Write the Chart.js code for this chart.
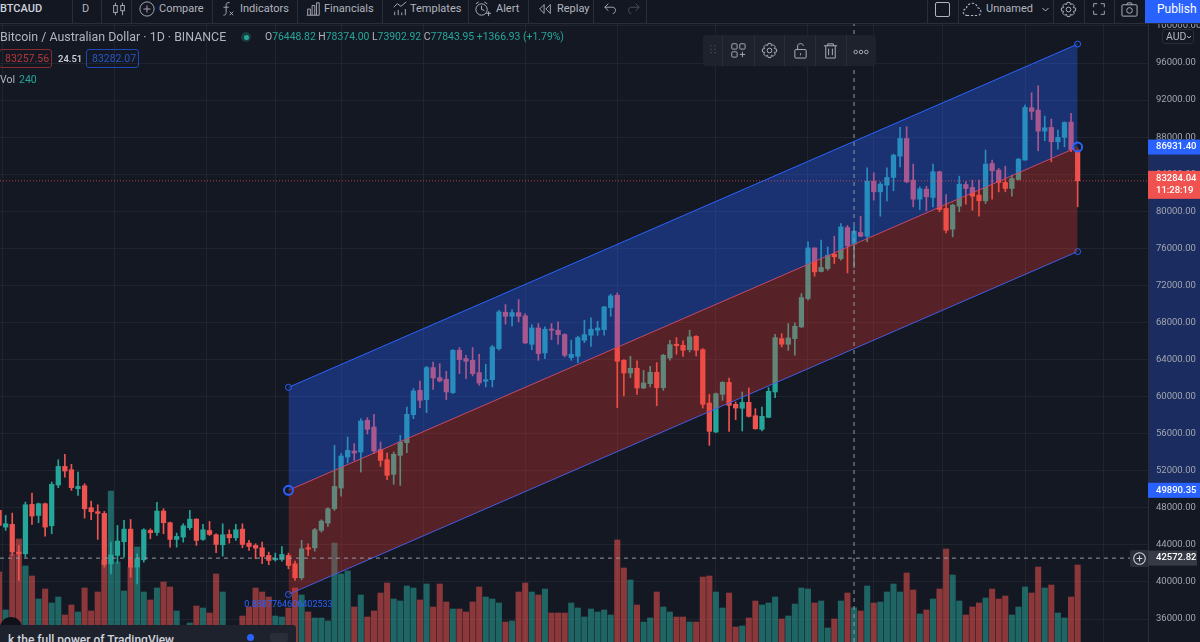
<!DOCTYPE html>
<html>
<head>
<meta charset="utf-8">
<title>BTCAUD</title>
<script src="https://cdn.jsdelivr.net/npm/chart.js@4/dist/chart.umd.js"></script>
<style>
  html, body { margin: 0; width: 1200px; height: 642px; overflow: hidden; background: #141823; font-family: Roboto, sans-serif; }
  #chart { position: absolute; left: 0; top: 0; }
  .t { position: absolute; white-space: nowrap; color: #b2b5be; font-size: 12px; line-height: 14px; }
  .box { position: absolute; box-sizing: border-box; }
  svg { position: absolute; fill: none; stroke: #b2b5be; stroke-width: 1; }
  #topbar { position: absolute; left: 0; top: 0; width: 1200px; height: 23px; background: #131722; border-bottom: 1px solid #2a2e39; overflow: hidden; }
  #bottomclip { position: absolute; left: 0; top: 625px; width: 296px; height: 17px; background: #1e222d; border-radius: 3px 3px 0 0; overflow: hidden; }
</style>
</head>
<body>
<canvas id="chart" width="1200" height="642"></canvas>
<div id="topbar"></div>
<div id="bottomclip"></div>
<div id="extras"></div>
<script>
// daily candles, index 0 is the left edge
var opens = [
  47720,45920,46210,43220,43040,48370,47180,48440,46060,50460,
  52470,52110,50060,50380,48010,47580,47400,41960,42860,44340,
  45700,41600,42390,45560,45340,47650,46390,44590,44840,45850,
  46780,44590,45560,45090,44010,45130,44770,45700,44190,43940,
  43690,42860,42390,42430,42860,41960,40450,43690,43690,45560,
  46350,47900,50130,53480,54130,54020,57440,56720,54310,53190,
  51610,53660,55030,58050,60680,59670,63130,62050,61870,60430,
  65000,64100,63920,62590,61650,61830,65180,69100,68670,69070,
  68710,65650,67410,64710,67300,67160,66690,64210,64350,66080,
  66620,67160,67230,69610,70940,63920,62550,63060,60930,61400,
  62620,60970,64170,65650,65540,65070,66510,65070,59310,56180,
  60250,61540,59170,58740,59380,57940,56470,57760,60500,66260,
  65650,66260,67520,70580,76050,73500,73820,75370,74900,78250,
  76448.82,77710,77310,83250,82100,82820,83650,85950,87860,83360,
  81310,82390,81490,84260,80300,78070,80550,82890,82570,81740,
  81130,85160,84440,83110,82460,83430,85520,91170,90920,88650,
  89050,87500,87970,89620,86600
];
var highs = [
  47720,47180,47430,43940,48620,49590,48510,48510,50780,53190,
  53770,52690,51860,50600,48730,48330,47610,44300,46100,46640,
  46750,43040,45740,45740,48580,47900,46460,45270,46280,47720,
  46820,46210,46530,45200,46280,45630,46210,46280,44480,44120,
  44300,43220,43110,43830,43110,42250,44480,44120,45780,46710,
  48010,54740,53840,55640,54920,57620,57730,58090,55100,53910,
  54020,55820,58880,60860,61690,63270,63740,63560,62730,65070,
  65290,64460,65290,64570,63490,65540,69320,69930,69390,70470,
  68960,67770,67880,67520,67880,68060,66800,66080,66510,68240,
  68490,68130,69750,71050,71190,64000,64350,63850,62840,63270,
  63670,64570,66080,66370,66010,67160,66580,65180,60250,60390,
  61620,62010,59420,60500,60930,58700,58880,60970,66730,66800,
  67880,67950,71120,76700,76050,76880,76160,77310,78680,78460,
  78374,79470,84690,84150,83140,84690,86170,89050,89120,85090,
  82640,82710,85090,84330,81810,80770,83790,83180,83360,83360,
  86600,85520,84620,84870,83900,85700,91460,92790,93550,90270,
  89950,88760,89660,90560,86780
];
var lows = [
  46000,45560,42860,40160,42680,46210,46390,44950,45200,50170,
  51320,49880,49340,46890,46710,44590,41600,40880,42030,42680,
  40520,39800,42140,44660,45020,45200,43760,43760,44300,45630,
  43940,44480,45020,43150,42790,44190,44480,43690,43400,42500,
  41960,41850,42250,42250,41420,40160,40230,42860,43330,45380,
  45990,47720,49270,52830,53120,51860,55960,53840,52470,51030,
  50530,50420,53950,57620,58810,58270,60790,61580,59670,60320,
  62480,61940,62230,61220,61040,61040,65000,67810,67630,68060,
  65720,65070,63920,64100,66150,65650,64280,63920,63670,65830,
  65430,66620,66620,68670,58810,60070,62050,60250,60860,61040,
  59020,60680,63920,64570,64350,64820,64390,58770,54740,56110,
  59600,56250,57510,56290,57800,56470,56290,57730,59890,65360,
  65000,64460,67450,70400,72990,73460,73640,74360,74720,73350,
  73902.92,77240,76700,81200,79470,81130,82210,84800,83070,80480,
  80190,80050,80480,79940,77670,77240,79940,80770,80120,79470,
  80840,81310,82100,82100,81630,83360,85520,89910,86530,87610,
  85340,86710,86960,86420,80480
];
var closes = [
  46100,46280,43220,43040,48330,47110,48440,45920,50530,52470,
  51970,50170,50310,47900,47580,47400,41890,42930,44410,45700,
  41600,42500,45630,45310,47650,46390,44590,44910,46060,46780,
  44480,45630,45130,44050,45090,44770,45630,44050,43830,43650,
  42750,42320,42540,42970,41780,40450,43580,43540,45630,46570,
  47900,50310,53590,54200,53910,57370,56470,54130,53120,51500,
  53770,55100,58090,60610,59600,63130,62010,61690,60500,65000,
  63990,63810,62480,61470,61830,65360,69140,68670,69070,68670,
  65790,67410,64640,67270,67160,66690,64460,64570,66370,66690,
  67270,67410,69680,70870,63810,62550,63060,60930,61470,62620,
  60970,64460,65610,65500,65000,66440,65000,59170,56250,60320,
  61540,59060,58770,59380,57870,56540,57870,60570,66370,65650,
  66330,67590,70690,76050,73460,73930,75260,75080,78320,76270,
  77843.95,77310,83250,82100,82930,83650,86060,87860,83180,81310,
  82420,81560,84260,80190,77960,80660,82930,82460,81630,81130,
  85090,84370,83110,82460,83540,85630,91210,90780,88650,89010,
  87500,87970,89590,86670,83284.04
];
var volumes = [
  490,224,616,721,532,462,301,371,273,315,
  189,259,210,378,217,350,574,1057,560,357,
  525,665,350,294,378,420,385,217,84,133,
  252,238,203,476,350,70,84,182,245,378,
  350,315,182,175,238,378,329,210,168,168,
  147,693,476,497,245,329,175,217,343,413,
  301,287,392,378,294,406,245,406,280,231,
  231,210,280,385,315,301,273,140,147,350,
  413,350,329,371,203,203,203,273,238,175,
  231,210,224,189,714,518,434,259,140,168,
  350,245,210,175,175,140,140,455,462,350,
  238,343,105,112,168,287,259,273,315,161,
  182,266,378,371,273,287,98,161,287,343,
  240,217,392,273,280,350,406,350,483,364,
  196,224,301,371,651,469,287,189,245,273,
  308,371,301,322,189,245,385,343,525,378,
  399,203,168,315,539
];

// parallel channel: [candle index, price] of its two ends
var channelIdx = [44, 164];
var channelTop = [61000, 98040];
var channelMid = [49890.35, 86931.40];
var channelLow = [38650, 75650];

var crossIdx = 130;
var crossPrice = 42572.82;
var lastPrice = 83284.04;
var gridIdx = [9, 26, 37, 47, 57, 72, 88, 100, 118, 128, 138, 149, 163, 173];
var priceTicks = [36000, 40000, 44000, 48000, 52000, 56000, 60000, 64000, 68000, 72000, 76000, 80000, 84000, 88000, 92000, 96000, 100000];
var legendRatio = '0.8887764606402533';

var priceMin = 33520, priceMax = 102800;
var idxMin = 0.137, idxMax = 174.7;
var volMax = 4494;

var UP = '#26a69a', DOWN = '#ef5350', BLUE = '#2962ff';

var idx = opens.map(function (_, i) { return i; });
var isUp = idx.map(function (i) { return closes[i] >= opens[i]; });
var candleColor = isUp.map(function (u) { return u ? UP : DOWN; });
var volColor = isUp.map(function (u) { return u ? 'rgba(38,166,154,0.55)' : 'rgba(239,83,80,0.55)'; });

function endPoints(values) {
  return channelIdx.map(function (x, i) { return { x: x, y: values[i] }; });
}

function guide(points, color, dash) {
  return {
    type: 'line', data: points, borderColor: color, borderWidth: 1, borderDash: dash,
    pointRadius: 0, fill: false, order: 1
  };
}

var axisTags = {
  id: 'axisTags',
  beforeDraw: function (chart) {
    // selected drawing's range shaded on the price axis
    var c = chart.ctx, s = chart.scales.y, a = chart.chartArea;
    c.save();
    c.fillStyle = '#1a2c60';
    var t = s.getPixelForValue(channelMid[1]), b = s.getPixelForValue(channelMid[0]);
    c.fillRect(a.right, t, chart.width - a.right, b - t);
    c.restore();
  },
  afterDraw: function (chart) {
    var c = chart.ctx, s = chart.scales.y, a = chart.chartArea, x = chart.scales.x;
    function tag(value, bg, color, w, lines) {
      var y = s.getPixelForValue(value);
      var h = lines ? 28 : 15;
      var top = lines ? y - 10 : y - h / 2;
      c.fillStyle = bg;
      c.fillRect(a.right, top, w, h);
      c.fillStyle = color;
      c.font = '500 9.5px Roboto';
      c.textAlign = 'left';
      c.textBaseline = 'middle';
      c.fillText(value.toFixed(2), a.right + 8, top + 7.5);
      if (lines) c.fillText(lines, a.right + 8, top + 20);
    }
    c.save();
    tag(channelMid[1], BLUE, '#fff', 52);
    tag(channelMid[0], BLUE, '#fff', 52);
    tag(lastPrice, '#f0524f', '#fff', 52, '11:28:19');
    tag(crossPrice, '#363a45', '#fff', 49);
    c.fillStyle = BLUE;
    c.font = '9px Roboto';
    c.textAlign = 'center';
    c.textBaseline = 'middle';
    c.fillText(legendRatio, x.getPixelForValue(channelIdx[0]), s.getPixelForValue(channelLow[0]) + 10);
    c.restore();
  }
};

new Chart(document.getElementById('chart').getContext('2d'), {
  data: {
    datasets: [
      {
        type: 'bar', yAxisID: 'yVol', order: 10, grouped: false, barThickness: 5.4,
        data: idx.map(function (i) { return { x: i, y: volumes[i] }; }),
        backgroundColor: volColor
      },
      {
        type: 'bar', order: 9, grouped: false, barThickness: 1,
        data: idx.map(function (i) { return { x: i, y: [lows[i], highs[i]] }; }),
        backgroundColor: candleColor
      },
      {
        type: 'bar', order: 8, grouped: false, barThickness: 4.6,
        data: idx.map(function (i) { return { x: i, y: [opens[i], closes[i]] }; }),
        backgroundColor: candleColor
      },
      {
        type: 'line', order: 4, data: endPoints(channelTop), borderColor: BLUE, borderWidth: 1,
        backgroundColor: 'rgba(41,98,255,0.36)', fill: '+1',
        pointRadius: 3, pointBorderColor: BLUE, pointBorderWidth: 1, pointBackgroundColor: 'rgba(20,24,35,0.4)'
      },
      {
        type: 'line', order: 4, data: endPoints(channelMid), borderColor: '#e2464f', borderWidth: 1,
        backgroundColor: 'rgba(242,60,50,0.3)', fill: '+1',
        pointRadius: 4.5, pointBorderColor: BLUE, pointBorderWidth: 2, pointBackgroundColor: 'rgba(20,24,35,0.4)'
      },
      {
        type: 'line', order: 4, data: endPoints(channelLow), borderColor: BLUE, borderWidth: 1, fill: false,
        pointRadius: 3, pointBorderColor: BLUE, pointBorderWidth: 1, pointBackgroundColor: 'rgba(20,24,35,0.4)'
      },
      guide([{ x: idxMin, y: lastPrice }, { x: idxMax, y: lastPrice }], 'rgba(239,83,80,0.7)', [1, 2]),
      guide([{ x: idxMin, y: crossPrice }, { x: idxMax, y: crossPrice }], '#9598a1', [4, 4]),
      guide([{ x: crossIdx, y: priceMin }, { x: crossIdx, y: priceMax }], '#9598a1', [4, 4])
    ]
  },
  plugins: [axisTags],
  options: {
    responsive: false,
    animation: false,
    layout: { padding: 0, autoPadding: false },
    plugins: { legend: { display: false }, tooltip: { enabled: false } },
    scales: {
      x: {
        type: 'linear', min: idxMin, max: idxMax, offset: false,
        afterBuildTicks: function (scale) {
          scale.ticks = gridIdx.map(function (v) { return { value: v }; });
        },
        afterFit: function (scale) { scale.height = 0; },
        ticks: { display: false },
        border: { display: false },
        grid: { color: '#20242f', drawTicks: false }
      },
      y: {
        position: 'right', min: priceMin, max: priceMax,
        afterBuildTicks: function (scale) {
          scale.ticks = priceTicks.map(function (v) { return { value: v }; });
        },
        afterFit: function (scale) {
          scale.width = 52;
          scale.paddingTop = 0;
          scale.paddingBottom = 0;
        },
        ticks: {
          autoSkip: false, padding: 8, color: '#a3a6af',
          font: { family: 'Roboto', size: 9.5 },
          callback: function (v) { return v.toFixed(2); }
        },
        border: { color: '#2a2e39' },
        grid: { color: '#20242f', drawTicks: false }
      },
      yVol: { display: false, min: 0, max: volMax }
    }
  }
});

// terminal chrome around the chart
var toolbarLabels = [
  ['BTCAUD', 0, '#d1d4dc', 500], ['D', 82, '#b2b5be'], ['Compare', 159, '#b2b5be'], ['Indicators', 240, '#b2b5be'],
  ['Financials', 324, '#b2b5be'], ['Templates', 410, '#b2b5be'], ['Alert', 496, '#b2b5be'], ['Replay', 557, '#b2b5be'],
  ['Unnamed', 986, '#b2b5be']
];
var toolbarSeps = [72, 101, 131, 212, 297, 382, 468, 528, 593, 646, 927, 958, 1053, 1084, 1114];
var panelSeps = [722, 754, 784, 815, 846];

var bar = document.getElementById('topbar');
var extras = document.getElementById('extras');

function text(parent, s, x, y, color, size, weight) {
  var el = document.createElement('div');
  el.className = 't';
  el.textContent = s;
  el.style.left = x + 'px';
  el.style.top = y + 'px';
  if (color) el.style.color = color;
  if (size) el.style.fontSize = size + 'px';
  if (weight) el.style.fontWeight = weight;
  parent.appendChild(el);
  return el;
}
function box(parent, x, y, w, h, css) {
  var el = document.createElement('div');
  el.className = 'box';
  el.style.cssText = 'left:' + x + 'px;top:' + y + 'px;width:' + w + 'px;height:' + h + 'px;' + (css || '');
  parent.appendChild(el);
  return el;
}
function icon(parent, x, y, size, inner, color) {
  var wrap = document.createElementNS('http://www.w3.org/2000/svg', 'svg');
  wrap.setAttribute('width', size);
  wrap.setAttribute('height', size);
  wrap.setAttribute('viewBox', '0 0 18 18');
  wrap.style.left = x + 'px';
  wrap.style.top = y + 'px';
  if (color) wrap.style.stroke = color;
  wrap.innerHTML = inner;
  parent.appendChild(wrap);
}

toolbarLabels.forEach(function (l) { text(bar, l[0], l[1], 2, l[2], 11, l[3]); });
toolbarSeps.forEach(function (x) { box(bar, x, 0, 1, 23, 'background:#2a2e39'); });
box(bar, 1145, 0, 55, 23, 'background:#2962ff');
text(bar, 'Publish', 1157, 2, '#fff', 12);

var gear = '<circle cx="9" cy="9" r="2.5"/><path d="M7.5 1.5h3l.5 2.3 2-.9 2.1 2.1-1 2 2.4.5v3l-2.4.5 1 2-2.1 2.1-2-1-.5 2.4h-3l-.5-2.4-2 1-2.1-2.1 1-2-2.4-.5v-3l2.4-.5-1-2 2.1-2.1 2 .9z"/>';
icon(bar, 111, 1, 16, '<rect x="3" y="5" width="4" height="8"/><path d="M5 2v3M5 13v3"/><rect x="11" y="5" width="4" height="6"/><path d="M13 2v3M13 11v5"/>');
icon(bar, 139, 1, 16, '<circle cx="9" cy="9" r="8"/><path d="M9 5v8M5 9h8"/>');
icon(bar, 219, 1, 16, '<path d="M12 2c-3-1-4 1-4 3v8c0 2-1 3-3 3M5 7h6M12 12l4 4M16 12l-4 4"/>');
icon(bar, 305, 1, 16, '<path d="M2 16h14M3 16V9h3v7M8 16V5h3v11M13 16V2h3v14"/>');
icon(bar, 392, 1, 16, '<path d="M2 7l4-4 4 3 6-5M3 16v-4M7 16v-6M11 16v-3M15 16V9"/>');
icon(bar, 474, 1, 17, '<circle cx="8" cy="9" r="6"/><path d="M8 5v4l3 1M2 3l3-2M14 3l-3-2M13 13h5M15.500 11v5"/>');
icon(bar, 537, 1, 16, '<path d="M8 4L3 9l5 5zM15 4l-5 5 5 5z"/>');
icon(bar, 603, 1, 16, '<path d="M6 3L2 7l4 4M2 7h9c4 0 4 7 0 7"/>');
icon(bar, 625, 1, 16, '<path d="M12 3l4 4-4 4M16 7H7c-4 0-4 7 0 7"/>', '#50535e');
box(bar, 935, 2, 15, 15, 'border:1px solid #b2b5be;border-radius:2px');
icon(bar, 962, 0, 20, '<path stroke-dasharray="2 1.500" d="M5 14c-5 0-5-6-1-6 0-6 9-7 10-1 4 0 4 7 0 7z"/>');
icon(bar, 1041, 5, 9, '<path d="M3 6l6 6 6-6" stroke-width="2"/>');
icon(bar, 1060, 1, 17, gear);
icon(bar, 1091, 1, 16, '<path d="M3 7V3h4M15 7V3h-4M3 11v4h4M15 11v4h-4"/>');
icon(bar, 1121, 1, 17, '<rect x="1" y="4" width="16" height="12" rx="1"/><circle cx="9" cy="10" r="3"/><path d="M6 4l1-2h4l1 2"/>');

// legend rows
text(extras, 'Bitcoin / Australian Dollar · 1D · BINANCE', 0, 30, '#b2b5be', 12.4);
box(extras, 241, 32, 10, 10, 'background:rgba(38,166,154,0.25);border-radius:50%');
box(extras, 244, 35, 4.5, 4.5, 'background:#26a69a;border-radius:50%');
var ohlc = document.createElement('div');
ohlc.className = 't';
ohlc.style.cssText = 'left:265px;top:30px;font-size:10.4px;color:#26a69a';
ohlc.innerHTML = '<span style="color:#b2b5be">O</span>76448.82 <span style="color:#b2b5be">H</span>78374.00 ' +
  '<span style="color:#b2b5be">L</span>73902.92 <span style="color:#b2b5be">C</span>77843.95 +1366.93 (+1.79%)';
extras.appendChild(ohlc);
box(extras, -1, 49, 53, 19, 'border:1px solid #8b2b30;border-radius:3px');
text(extras, '83257.56', 5, 52, '#b5383c', 10.5);
text(extras, '24.51', 58, 52, '#d1d4dc', 9.5, 500);
box(extras, 86, 49, 53, 19, 'border:1px solid #1f49b6;border-radius:3px');
text(extras, '83282.07', 92, 52, '#2a56c6', 10.5);
text(extras, 'Vol', 0, 73, '#b2b5be', 10.5);
text(extras, '240', 19, 73, '#26a69a', 10.5);

// floating drawing toolbar
box(extras, 703, 35, 173, 31, 'background:#1e222d;border-radius:4px');
panelSeps.forEach(function (x) { box(extras, x, 35, 1, 31, 'background:#2a2e39'); });
icon(extras, 707, 44, 12, '<path stroke-dasharray="1.500 3.500" stroke-width="2" d="M6 2v14M12 2v14"/>', '#50535e');
icon(extras, 730, 42, 16, '<rect x="2" y="2" width="6" height="6" rx="1"/><rect x="11" y="2" width="6" height="6" rx="1"/><rect x="2" y="11" width="6" height="6" rx="1"/><path d="M14 11v6M11 14h6"/>');
icon(extras, 761, 42, 17, gear);
icon(extras, 792, 42, 17, '<rect x="3" y="8" width="12" height="9" rx="1"/><path d="M6 8V4c0-3 6-3 6 0"/><path d="M9 12v2"/>');
icon(extras, 822, 42, 17, '<path d="M2 4h14M6 4V2h6v2M4 4v13h10V4M7 7v7M11 7v7"/>');
icon(extras, 853, 44, 16, '<circle cx="3" cy="9" r="2"/><circle cx="9" cy="9" r="2"/><circle cx="15" cy="9" r="2"/>');

// currency button and the + next to the crosshair price
box(extras, 1162, 29, 32, 15, 'background:#141823;border:1px solid #2a2e39;border-radius:3px');
text(extras, 'AUD', 1166, 30, '#b2b5be', 10.5);
icon(extras, 1186, 34, 6, '<path d="M3 6l6 6 6-6" stroke-width="3"/>');
box(extras, 1130, 550, 18, 17, 'background:#2a2e39;border-radius:2px 0 0 2px');
icon(extras, 1133, 552, 13, '<circle cx="9" cy="9" r="8" stroke-width="1.500"/><path d="M9 5v8M5 9h8" stroke-width="1.500"/>', '#d1d4dc');

// upgrade banner cut by the window edge
box(extras, 0, 617, 22, 16, 'background:#0e1118;border-radius:11px 11px 0 0;');
var banner = document.getElementById('bottomclip');
document.body.appendChild(banner);
text(banner, 'k the full power of TradingView', 8, 8, '#d1d4dc', 12, 500);
box(banner, 247, 9, 7, 7, 'background:#2962ff;border-radius:50%');
box(banner, 270, 8, 18, 9, 'background:#2a2e39;border-radius:2px');
</script>
</body>
</html>
